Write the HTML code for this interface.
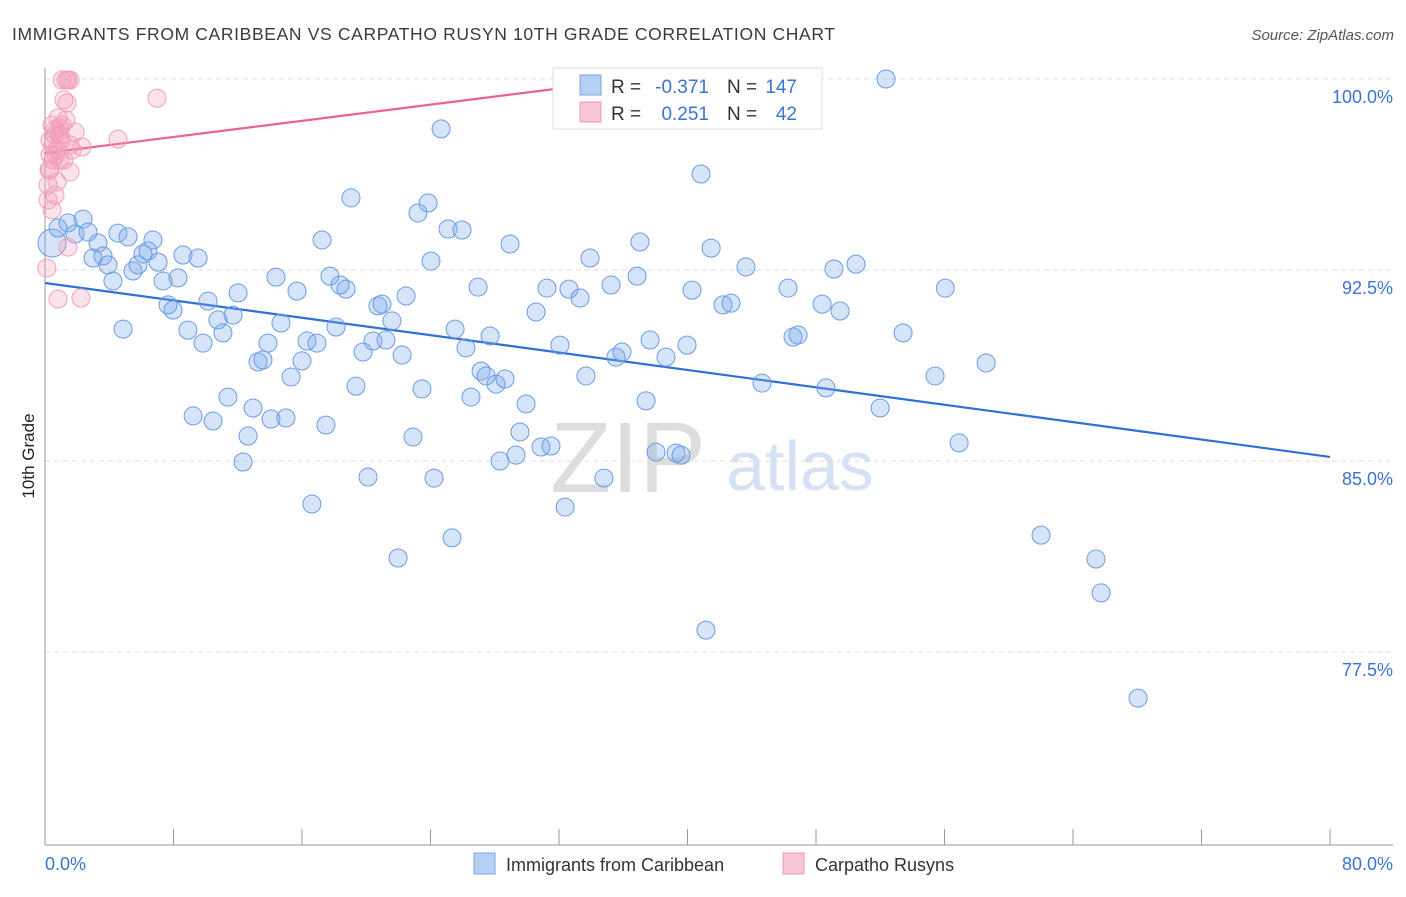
<!DOCTYPE html>
<html><head><meta charset="utf-8"><style>
body{margin:0;background:#fff;font-family:"Liberation Sans",sans-serif}
svg text{font-family:"Liberation Sans",sans-serif}
</style></head><body>
<svg id="c" width="1406" height="892">
<text x="12" y="40" font-size="17.5" fill="#3a3a3a" textLength="823">IMMIGRANTS FROM CARIBBEAN VS CARPATHO RUSYN 10TH GRADE CORRELATION CHART</text>
<text x="1394" y="40" font-size="15" fill="#555" font-style="italic" text-anchor="end">Source: ZipAtlas.com</text>
<text x="34" y="456" font-size="17" fill="#222" transform="rotate(-90 34 456)" text-anchor="middle">10th Grade</text>
<text x="628" y="492" font-size="100" fill="#ddd" font-family="Liberation Serif" text-anchor="middle">ZIP</text>
<text x="800" y="490" font-size="70" fill="#d6e2f3" text-anchor="middle">atlas</text>
<g id="grid"></g><g id="axes"></g><g id="trend"></g><g id="pts"></g>
<g>
<rect x="553" y="68" width="269" height="61" fill="#fff" stroke="#ddd"/>
<rect x="580" y="75" width="21" height="20" fill="#b6d0f5" stroke="#7aa6e6"/>
<text x="611" y="93" font-size="19" fill="#333">R =</text>
<text x="709" y="93" font-size="19" fill="#3b73d4" text-anchor="end">-0.371</text>
<text x="727" y="93" font-size="19" fill="#333">N =</text>
<text x="797" y="93" font-size="19" fill="#3b73d4" text-anchor="end">147</text>
<rect x="580" y="102" width="21" height="20" fill="#f9c6d5" stroke="#ec9ab3"/>
<text x="611" y="120" font-size="19" fill="#333">R =</text>
<text x="709" y="120" font-size="19" fill="#3b73d4" text-anchor="end">0.251</text>
<text x="727" y="120" font-size="19" fill="#333">N =</text>
<text x="797" y="120" font-size="19" fill="#3b73d4" text-anchor="end">42</text>
</g>
<g>
<rect x="474" y="853" width="21" height="21" fill="#b6d0f5" stroke="#7aa6e6"/>
<text x="506" y="871" font-size="18" fill="#333">Immigrants from Caribbean</text>
<rect x="783" y="853" width="21" height="21" fill="#f9c6d5" stroke="#ec9ab3"/>
<text x="815" y="871" font-size="18" fill="#333">Carpatho Rusyns</text>
</g>
</svg>
<script>
const blueX=[0.44,0.81,1.43,2.37,1.87,2.68,3.30,2.99,3.61,3.92,4.23,4.54,4.86,5.17,5.48,5.79,6.10,6.41,6.72,7.04,7.35,7.66,7.97,8.28,8.59,8.90,9.22,9.53,9.84,10.15,10.46,10.77,11.08,11.39,11.71,12.02,12.33,12.64,12.95,13.26,13.57,13.88,14.07,14.38,14.69,15.00,15.32,15.69,16.00,16.31,16.62,16.93,17.25,17.49,17.74,18.12,18.37,18.74,19.05,19.36,19.80,20.11,20.42,20.73,20.98,21.23,21.60,21.98,22.23,22.48,22.91,23.22,23.47,23.85,24.03,24.22,24.66,25.09,25.34,25.53,25.96,26.21,26.52,26.96,27.15,27.46,27.71,28.08,28.33,28.64,28.95,29.32,29.57,29.95,30.57,30.88,31.25,31.50,32.06,32.38,32.62,33.31,33.68,33.93,34.80,35.24,35.55,35.92,36.86,37.04,37.42,37.67,38.04,38.66,39.29,39.60,39.97,40.28,40.84,41.15,41.47,42.21,42.71,43.64,44.64,46.26,46.57,46.88,48.38,48.62,49.12,49.50,50.49,51.99,52.36,53.42,55.41,56.05,56.91,58.59,62.01,65.43,65.75,68.05];
const blueY=[93.56,94.15,94.35,94.50,93.91,93.99,93.56,92.97,93.05,92.70,92.07,93.95,90.18,93.80,92.46,92.70,93.13,93.25,93.68,92.81,92.07,91.13,90.93,92.19,93.09,90.14,86.77,92.97,89.63,91.28,86.57,90.54,90.03,87.51,90.73,91.60,84.96,85.98,87.08,88.89,88.97,89.63,86.65,92.22,90.42,86.69,88.30,91.67,88.93,89.71,83.31,89.63,93.68,86.41,92.26,90.26,91.91,91.75,95.33,87.94,89.28,84.37,89.71,91.09,91.16,89.75,90.50,81.19,89.16,91.48,85.94,94.74,87.83,95.13,92.85,84.33,98.04,94.11,81.98,90.18,94.07,89.44,87.51,91.83,88.53,88.34,89.91,88.02,85.00,88.22,93.52,85.23,86.14,87.24,90.85,85.55,91.79,85.59,89.55,83.19,91.75,91.40,88.34,92.97,84.33,91.91,89.08,89.28,92.26,93.60,87.36,89.75,85.35,89.08,85.31,85.23,89.55,91.71,96.27,78.36,93.36,91.13,91.20,92.62,88.06,91.79,89.87,89.95,91.16,87.87,92.54,90.89,92.73,87.08,100.0,90.03,88.34,91.79,85.71,88.85,82.09,81.15,79.82,75.69];
const pinkX=[0.12,0.19,0.25,0.31,0.31,0.44,0.50,0.62,0.62,0.75,0.81,0.93,0.81,1.06,1.18,1.31,1.43,1.31,1.56,1.56,1.43,1.37,1.68,1.87,2.24,2.30,1.00,0.62,0.93,0.75,1.18,4.54,6.97,37.36,0.31,0.50,1.06,0.19,0.44,0.68,0.93,1.56];
const pinkY=[92.58,95.84,96.43,97.02,97.60,98.19,96.82,98.00,95.44,97.21,98.47,97.80,91.36,99.96,99.18,99.96,99.96,98.39,97.41,96.35,93.40,99.06,97.21,97.92,91.40,97.33,97.60,97.80,96.82,95.96,96.82,97.64,99.25,100.0,96.43,97.41,98.19,95.25,94.86,97.02,98.08,99.96];
const yTicks=[100,92.5,85,77.5];
const yTickLabels=["100.0%","92.5%","85.0%","77.5%"];
const xTicks=[0,8,16,24,32,40,48,56,64,72,80];
const blueTrend=[[0,91.99],[80,85.16]];
const pinkTrend=[[0,97.09],[36.7,100.0]];
const NS="http://www.w3.org/2000/svg";
const sx=v=>45+v*(1285/80);
const sy=v=>79+(100-v)*(191/7.5);
function mk(tag,attrs,parent){const e=document.createElementNS(NS,tag);for(const k in attrs)e.setAttribute(k,attrs[k]);document.getElementById(parent).appendChild(e);return e;}
yTicks.forEach((t,i)=>{
 const g=mk('line',{x1:45,x2:1393,y1:sy(t),y2:sy(t),stroke:'#dcdcdc','stroke-dasharray':'5,4'},'grid');
 
 
 const l=mk('text',{x:1393,y:sy(t)+24,'font-size':18,fill:'#3b73d4','text-anchor':'end'},'grid');
 l.textContent=yTickLabels[i];
 
 
});
const ya=mk('line',{x1:45,x2:45,y1:68,y2:845,stroke:'#999'},'axes');


const xa=mk('line',{x1:45,x2:1393,y1:845,y2:845,stroke:'#999'},'axes');


xTicks.forEach(t=>{
 const k=mk('line',{x1:sx(t),x2:sx(t),y1:829,y2:845,stroke:'#999'},'axes');
 
 
});
const x0=mk('text',{x:45,y:870,'font-size':18,fill:'#3b73d4'},'axes');x0.textContent='0.0%';


const x1=mk('text',{x:1393,y:870,'font-size':18,fill:'#3b73d4','text-anchor':'end'},'axes');x1.textContent='80.0%';


blueX.forEach((v,i)=>{
 const c=mk('circle',{cx:sx(v),cy:sy(blueY[i]),r:i===0?14:9,fill:'rgba(120,165,235,0.3)',stroke:'#6b9be3','stroke-width':1},'pts');
 
 
});
pinkX.forEach((v,i)=>{
 const c=mk('circle',{cx:sx(v),cy:sy(pinkY[i]),r:9,fill:'rgba(245,150,180,0.28)',stroke:'#f0a3bb','stroke-width':1},'pts');
 
 
});
const bt=mk('line',{x1:sx(blueTrend[0][0]),y1:sy(blueTrend[0][1]),x2:sx(blueTrend[1][0]),y2:sy(blueTrend[1][1]),stroke:'#2f6fd6','stroke-width':2.2},'trend');


const pt=mk('line',{x1:sx(pinkTrend[0][0]),y1:sy(pinkTrend[0][1]),x2:sx(pinkTrend[1][0]),y2:sy(pinkTrend[1][1]),stroke:'#e8638f','stroke-width':2.2},'trend');


</script>
</body></html>
